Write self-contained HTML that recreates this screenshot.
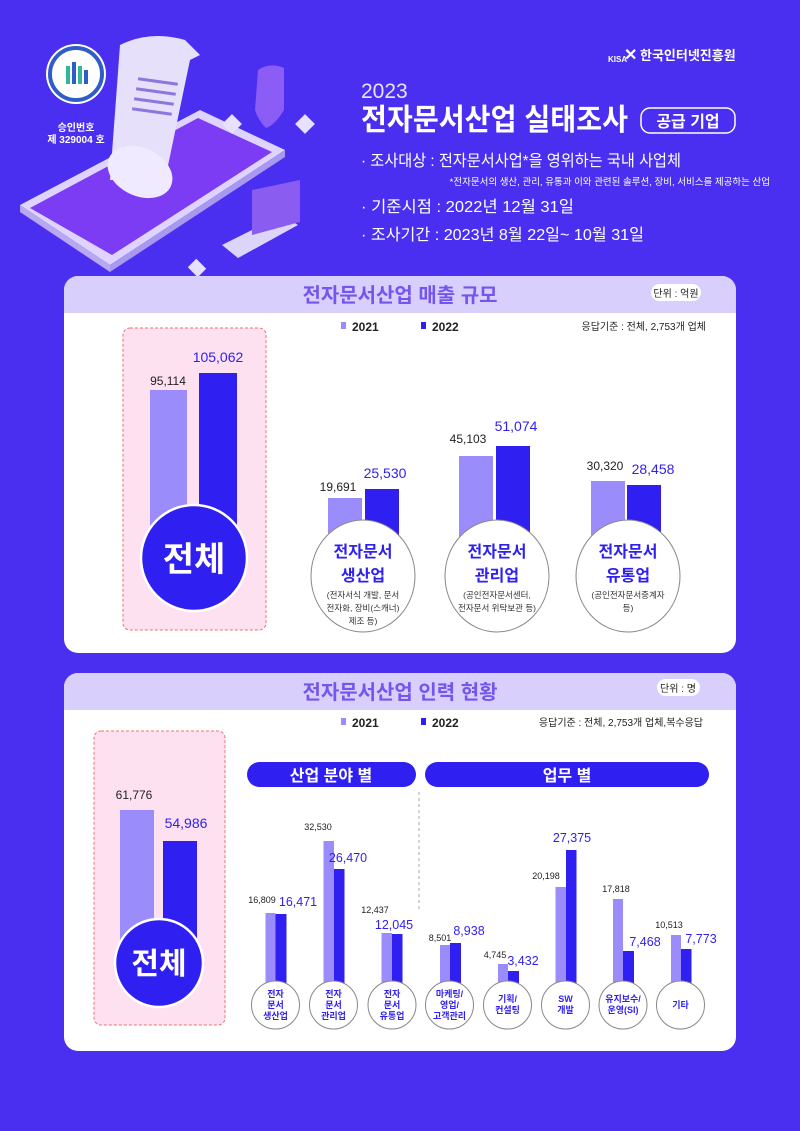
<!DOCTYPE html>
<html><head><meta charset="utf-8"><style>
body{margin:0;background:#4a2ff0;}
svg{display:block;font-family:"Liberation Sans","Noto Sans CJK KR",sans-serif;}
</style></head><body>
<svg width="800" height="1131" viewBox="0 0 800 1131" xmlns="http://www.w3.org/2000/svg">
<rect width="800" height="1131" fill="#4a2ff0"/>
<!-- illustration -->
<g>
<path d="M20 205 L200 110 L285 150 L110 265 Z" fill="#ded4ff"/>
<path d="M30 208 L198 118 L272 152 L112 255 Z" fill="#7b3cf4"/>
<path d="M20 205 L110 265 L110 272 L20 212 Z" fill="#b8a8f2"/>
<path d="M110 265 L285 150 L285 157 L110 272 Z" fill="#a898ee"/>
<path d="M120 45 Q150 30 185 40 L200 55 L190 60 L165 180 L110 180 Z" fill="#e6e0fb"/>
<rect x="138" y="80" width="40" height="3" fill="#8a78e0" transform="rotate(8 158 81)"/>
<rect x="136" y="90" width="40" height="3" fill="#8a78e0" transform="rotate(8 156 91)"/>
<rect x="134" y="100" width="40" height="3" fill="#8a78e0" transform="rotate(8 154 101)"/>
<rect x="132" y="110" width="40" height="3" fill="#8a78e0" transform="rotate(8 152 111)"/>
<ellipse cx="140" cy="172" rx="34" ry="24" fill="#efeaff" transform="rotate(25 140 172)"/>
<path d="M258 70 Q270 62 284 68 L284 110 Q275 125 266 128 Q258 120 255 110 Z" fill="#8b5cf6"/>
<path d="M222 245 L282 215 L298 225 L238 258 Z" fill="#dcd5f7"/>
<path d="M252 190 L300 180 L300 222 L252 235 Z" fill="#8a5cf0"/>
<rect x="225" y="117" width="14" height="14" fill="#e7e1ff" transform="rotate(45 232 124)"/>
<rect x="298" y="117" width="14" height="14" fill="#e7e1ff" transform="rotate(45 305 124)"/>
<rect x="190" y="262" width="14" height="12" fill="#e7e1ff" transform="rotate(45 197 268)"/>
</g>
<!-- logo -->
<circle cx="76" cy="74" r="30" fill="#ffffff"/>
<circle cx="76" cy="74" r="26" fill="none" stroke="#2e5cc8" stroke-width="4"/>
<rect x="66" y="66" width="4" height="18" fill="#30b89a"/><rect x="72" y="62" width="4" height="22" fill="#2e5cc8"/><rect x="78" y="66" width="4" height="18" fill="#30b89a"/><rect x="84" y="70" width="4" height="14" fill="#2e5cc8"/>
<text x="76" y="131" fill="#fff" font-size="10" font-weight="bold" text-anchor="middle">승인번호</text>
<text x="76" y="143" fill="#fff" font-size="10" font-weight="bold" text-anchor="middle">제 329004 호</text>
<!-- KISA -->
<text x="608" y="62" fill="#fff" font-size="8" font-weight="bold">KISA</text>
<text x="624" y="60" fill="#fff" font-size="16" font-weight="bold">✕</text>
<text x="640" y="60" fill="#fff" font-size="13" font-weight="bold">한국인터넷진흥원</text>
<!-- header text -->
<text x="361" y="98" fill="#e8e4ff" font-size="21">2023</text>
<text x="361" y="130" fill="#fff" font-size="30" font-weight="bold" textLength="267" lengthAdjust="spacingAndGlyphs">전자문서산업 실태조사</text>
<rect x="641" y="108" width="94" height="25" rx="9" fill="none" stroke="#fff" stroke-width="1.5"/>
<text x="688" y="127" fill="#fff" font-size="16" font-weight="bold" text-anchor="middle">공급 기업</text>
<text x="361" y="166" fill="#fff" font-size="16" textLength="320" lengthAdjust="spacingAndGlyphs">· 조사대상 : 전자문서사업*을 영위하는 국내 사업체</text>
<text x="770" y="185" fill="#fff" font-size="9.5" text-anchor="end">*전자문서의 생산, 관리, 유통과 이와 관련된 솔루션, 장비, 서비스를 제공하는 산업</text>
<text x="361" y="212" fill="#fff" font-size="16" textLength="213" lengthAdjust="spacingAndGlyphs">· 기준시점 : 2022년 12월 31일</text>
<text x="361" y="240" fill="#fff" font-size="16" textLength="283" lengthAdjust="spacingAndGlyphs">· 조사기간 : 2023년 8월 22일~ 10월 31일</text>

<!-- Panel 1 -->
<rect x="64" y="276" width="672" height="377" rx="14" fill="#fff"/>
<path d="M78 276 H722 A14 14 0 0 1 736 290 V313 H64 V290 A14 14 0 0 1 78 276 Z" fill="#d8cffc"/>
<text x="400" y="302" fill="#7456ee" font-size="20" font-weight="bold" text-anchor="middle">전자문서산업 매출 규모</text>
<rect x="651" y="284" width="50" height="17" rx="8.5" fill="#fff"/>
<text x="676" y="297" fill="#222" font-size="10" text-anchor="middle">단위 : 억원</text>
<rect x="341" y="322" width="5" height="7" fill="#9b8cfb"/><text x="352" y="331" font-size="12" font-weight="bold" fill="#222">2021</text>
<rect x="421" y="322" width="5" height="7" fill="#2f1ff0"/><text x="432" y="331" font-size="12" font-weight="bold" fill="#222">2022</text>
<text x="706" y="330" font-size="10" fill="#222" text-anchor="end">응답기준 : 전체, 2,753개 업체</text>
<rect x="123" y="328" width="143" height="302" rx="7" fill="#fde1f1" stroke="#f07070" stroke-dasharray="3 2"/>
<rect x="150" y="390" width="37" height="150" fill="#9b8cfb"/>
<rect x="199" y="373" width="38" height="167" fill="#2f1ff0"/>
<text x="168" y="385" font-size="12" fill="#222" text-anchor="middle">95,114</text>
<text x="218" y="362" font-size="14" fill="#2f1ff0" text-anchor="middle">105,062</text>
<circle cx="194" cy="558" r="53" fill="#2f1ff0" stroke="#fff" stroke-width="2.5"/>
<text x="194" y="571" font-size="34" font-weight="bold" fill="#fff" text-anchor="middle">전체</text>

<g font-size="12">
<rect x="328" y="498" width="34" height="40" fill="#9b8cfb"/><rect x="365" y="489" width="34" height="49" fill="#2f1ff0"/>
<text x="338" y="491" fill="#222" text-anchor="middle">19,691</text><text x="385" y="478" fill="#2f1ff0" font-size="14" text-anchor="middle">25,530</text>
<rect x="459" y="456" width="34" height="82" fill="#9b8cfb"/><rect x="496" y="446" width="34" height="92" fill="#2f1ff0"/>
<text x="468" y="443" fill="#222" text-anchor="middle">45,103</text><text x="516" y="431" fill="#2f1ff0" font-size="14" text-anchor="middle">51,074</text>
<rect x="591" y="481" width="34" height="57" fill="#9b8cfb"/><rect x="627" y="485" width="34" height="53" fill="#2f1ff0"/>
<text x="605" y="470" fill="#222" text-anchor="middle">30,320</text><text x="653" y="474" fill="#2f1ff0" font-size="14" text-anchor="middle">28,458</text>
</g>
<g fill="#fff" stroke="#888" stroke-width="1">
<ellipse cx="363" cy="576" rx="52" ry="56"/><ellipse cx="497" cy="576" rx="52" ry="56"/><ellipse cx="628" cy="576" rx="52" ry="56"/>
</g>
<g text-anchor="middle" fill="#2f1ff0" font-weight="bold" font-size="16">
<text x="363" y="557">전자문서</text><text x="363" y="581">생산업</text>
<text x="497" y="557">전자문서</text><text x="497" y="581">관리업</text>
<text x="628" y="557">전자문서</text><text x="628" y="581">유통업</text>
</g>
<g text-anchor="middle" fill="#333" font-size="8.5">
<text x="363" y="598">(전자서식 개발, 문서</text><text x="363" y="611">전자화, 장비(스캐너)</text><text x="363" y="624">제조 등)</text>
<text x="497" y="598">(공인전자문서센터,</text><text x="497" y="611">전자문서 위탁보관 등)</text>
<text x="628" y="598">(공인전자문서중계자</text><text x="628" y="611">등)</text>
</g>

<!-- Panel 2 -->
<rect x="64" y="673" width="672" height="378" rx="14" fill="#fff"/>
<path d="M78 673 H722 A14 14 0 0 1 736 687 V710 H64 V687 A14 14 0 0 1 78 673 Z" fill="#d8cffc"/>
<text x="400" y="699" fill="#7456ee" font-size="20" font-weight="bold" text-anchor="middle">전자문서산업 인력 현황</text>
<rect x="657" y="679" width="43" height="17" rx="8.5" fill="#fff"/>
<text x="678" y="692" fill="#222" font-size="10" text-anchor="middle">단위 : 명</text>
<rect x="341" y="718" width="5" height="7" fill="#9b8cfb"/><text x="352" y="727" font-size="12" font-weight="bold" fill="#222">2021</text>
<rect x="421" y="718" width="5" height="7" fill="#2f1ff0"/><text x="432" y="727" font-size="12" font-weight="bold" fill="#222">2022</text>
<text x="703" y="726" font-size="10" fill="#222" text-anchor="end">응답기준 : 전체, 2,753개 업체,복수응답</text>
<rect x="94" y="731" width="131" height="294" rx="7" fill="#fde1f1" stroke="#f07070" stroke-dasharray="3 2"/>
<rect x="120" y="810" width="34" height="130" fill="#9b8cfb"/>
<rect x="163" y="841" width="34" height="100" fill="#2f1ff0"/>
<text x="134" y="799" font-size="12" fill="#222" text-anchor="middle">61,776</text>
<text x="186" y="828" font-size="14" fill="#2f1ff0" text-anchor="middle">54,986</text>
<circle cx="159" cy="963" r="44" fill="#2f1ff0" stroke="#fff" stroke-width="2.5"/>
<text x="159" y="974" font-size="30" font-weight="bold" fill="#fff" text-anchor="middle">전체</text>

<rect x="247" y="762" width="169" height="25" rx="12.5" fill="#2f1ff0"/>
<text x="331" y="781" fill="#fff" font-size="16" font-weight="bold" text-anchor="middle">산업 분야 별</text>
<rect x="425" y="762" width="284" height="25" rx="12.5" fill="#2f1ff0"/>
<text x="567" y="781" fill="#fff" font-size="16" font-weight="bold" text-anchor="middle">업무 별</text>
<line x1="419" y1="792" x2="419" y2="912" stroke="#aaa" stroke-dasharray="3 3"/>

<g fill="#9b8cfb">
<rect x="265.5" y="913" width="10" height="70"/><rect x="323.5" y="841" width="10.5" height="142"/><rect x="381.5" y="933" width="10.5" height="50"/>
<rect x="440" y="945" width="10" height="38"/><rect x="498" y="964" width="10" height="19"/><rect x="555.5" y="887" width="10.5" height="96"/>
<rect x="613" y="899" width="10" height="84"/><rect x="671" y="935" width="10" height="48"/>
</g>
<g fill="#2f1ff0">
<rect x="275.5" y="914" width="11" height="69"/><rect x="334" y="869" width="10.5" height="114"/><rect x="392" y="934" width="10.5" height="49"/>
<rect x="450" y="943" width="11" height="40"/><rect x="508" y="971" width="11" height="12"/><rect x="566" y="850" width="10.5" height="133"/>
<rect x="623" y="951" width="11" height="32"/><rect x="681" y="949" width="10.5" height="34"/>
</g>
<g font-size="9" fill="#222" text-anchor="middle">
<text x="262" y="903">16,809</text><text x="318" y="830">32,530</text><text x="375" y="913">12,437</text>
<text x="440" y="941">8,501</text><text x="495" y="958">4,745</text><text x="546" y="879">20,198</text>
<text x="616" y="892">17,818</text><text x="669" y="928">10,513</text>
</g>
<g font-size="12.5" fill="#2f1ff0" text-anchor="middle">
<text x="298" y="906">16,471</text><text x="348" y="862">26,470</text><text x="394" y="929">12,045</text>
<text x="469" y="935">8,938</text><text x="523" y="965">3,432</text><text x="572" y="842">27,375</text>
<text x="645" y="946">7,468</text><text x="701" y="943">7,773</text>
</g>
<g fill="#fff" stroke="#888">
<ellipse cx="275.5" cy="1005" rx="24" ry="24"/><ellipse cx="333.5" cy="1005" rx="24" ry="24"/><ellipse cx="392" cy="1005" rx="24" ry="24"/>
<ellipse cx="449.5" cy="1005" rx="24" ry="24"/><ellipse cx="507.5" cy="1005" rx="24" ry="24"/><ellipse cx="565.5" cy="1005" rx="24" ry="24"/>
<ellipse cx="623" cy="1005" rx="24" ry="24"/><ellipse cx="680.5" cy="1005" rx="24" ry="24"/>
</g>
<g font-size="9" font-weight="bold" fill="#2f1ff0" text-anchor="middle">
<text x="275.5" y="997">전자</text><text x="275.5" y="1008">문서</text><text x="275.5" y="1019">생산업</text>
<text x="333.5" y="997">전자</text><text x="333.5" y="1008">문서</text><text x="333.5" y="1019">관리업</text>
<text x="392" y="997">전자</text><text x="392" y="1008">문서</text><text x="392" y="1019">유통업</text>
<text x="449.5" y="997">마케팅/</text><text x="449.5" y="1008">영업/</text><text x="449.5" y="1019">고객관리</text>
<text x="507.5" y="1002">기획/</text><text x="507.5" y="1013">컨설팅</text>
<text x="565.5" y="1002">SW</text><text x="565.5" y="1013">개발</text>
<text x="623" y="1002">유지보수/</text><text x="623" y="1013">운영(SI)</text>
<text x="680.5" y="1008">기타</text>
</g>
</svg>
</body></html>
